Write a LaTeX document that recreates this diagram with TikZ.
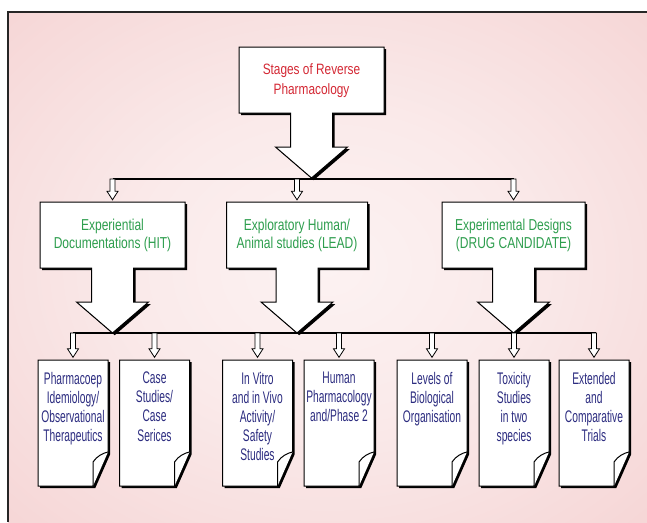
\documentclass[tikz,border=0pt]{standalone}
\usepackage{fontspec}
\setmainfont{Liberation Sans}
\newfontfamily\condA[FakeStretch=0.79]{Liberation Sans}
\newfontfamily\condB[FakeStretch=0.76]{Liberation Sans}
\newfontfamily\condC[FakeStretch=0.61]{Liberation Sans}
\usetikzlibrary{calc}
\definecolor{redtxt}{RGB}{212,40,52}
\definecolor{greentxt}{RGB}{46,158,78}
\definecolor{bluetxt}{RGB}{44,44,128}
\definecolor{bgA}{RGB}{252,242,242}
\definecolor{bgB}{RGB}{250,234,234}
\definecolor{bgC}{RGB}{245,210,210}
\definecolor{bgD}{RGB}{241,196,196}
\definecolor{bgE}{RGB}{238,186,186}
\pgfdeclareradialshading{bgshade}{\pgfpoint{0bp}{0bp}}{color(0bp)=(bgA); color(15bp)=(bgB); color(40bp)=(bgC); color(55bp)=(bgD); color(71bp)=(bgE)}

% box with down arrow: #1 centre x, #2 top y, #3 box width
\newcommand\callout[3]{%
  \fill[shadowst] (#1-#3/2,-#2) -- (#1+#3/2,-#2) -- (#1+#3/2,-#2-66) -- (#1+21,-#2-66) -- (#1+21,-#2-100) -- (#1+36,-#2-100) -- (#1,-#2-131) -- (#1-36,-#2-100) -- (#1-21,-#2-100) -- (#1-21,-#2-66) -- (#1-#3/2,-#2-66) -- cycle;
  \filldraw[shapest] (#1-#3/2,-#2) -- (#1+#3/2,-#2) -- (#1+#3/2,-#2-66) -- (#1+21,-#2-66) -- (#1+21,-#2-100) -- (#1+36,-#2-100) -- (#1,-#2-131) -- (#1-36,-#2-100) -- (#1-21,-#2-100) -- (#1-21,-#2-66) -- (#1-#3/2,-#2-66) -- cycle;}

% folded page: #1 centre x
\newcommand\pagesheet[1]{%
  \fill[shadowst] (#1-35,-360) -- (#1+35,-360) -- (#1+35,-452) -- (#1+20,-486) -- (#1-35,-486) -- cycle;
  \filldraw[shapest] (#1-35,-360) -- (#1+35,-360) -- (#1+35,-452) -- (#1+20,-486) -- (#1-35,-486) -- cycle;
  \draw[shapest] (#1+20,-486) -- (#1+20,-462) .. controls (#1+24,-456) and (#1+30,-453) .. (#1+35,-452);}

% small hollow arrow from a point (#1) down to a node anchor (#2)
\newcommand\smallarr[2]{%
  \filldraw[smallarrst] let \p1=(#1), \p2=(#2) in (\x1-2.5,\y1) -- (\x1+2.5,\y1) -- (\x1+2.5,\y2+11) -- (\x1+5.5,\y2+11) -- (\x1,\y2+2.5) -- (\x1-5.5,\y2+11) -- (\x1-2.5,\y2+11) -- cycle;}

\begin{document}
\begin{tikzpicture}[x=1pt,y=1pt,
  framest/.style={line width=1.3pt, draw=black!85},
  shapest/.style={fill=white,draw=black,line width=1pt,line join=miter},
  shadowst/.style={fill=black, shift={(2.2,-2.2)}},
  barst/.style={line width=1.4pt, draw=black},
  smallarrst/.style={fill=white,draw=black,line width=0.8pt},
  toptxt/.style={font=\condA\fontsize{15}{20}\selectfont, text=redtxt, align=center},
  midtxt/.style={font=\condB\fontsize{15.8}{18}\selectfont, text=greentxt, align=center},
  pagetxt/.style={font=\condC\fontsize{16.8}{19.1}\selectfont, text=bluetxt, align=center, inner sep=0pt, anchor=north},
  boxnode/.style={minimum width=145pt, minimum height=66pt, inner sep=0pt},
  pagenode/.style={minimum width=70pt, minimum height=126pt, inner sep=0pt},
]
\useasboundingbox (0,0) rectangle (647,-522);
\shade[shading=bgshade] (8,-12) rectangle (647,-522);
\draw[framest] (647,-12) -- (8,-12) -- (8,-522);

% shapes
\callout{311.5}{47}{145}
\callout{112.5}{202}{145}
\callout{297}{202}{141}
\callout{513.5}{202}{143}
\foreach \c in {73,154.5,257.5,339,432,514,594}{\pagesheet{\c}}

% nodes
\node[toptxt] (stages) at (311.5,-80.5) {Stages of Reverse\\Pharmacology};
\node[boxnode,midtxt] (exp1) at (112.5,-235.5) {Experiential\\Documentations (HIT)};
\node[boxnode,midtxt,minimum width=141pt] (exp2) at (297,-235.5) {Exploratory Human/\\Animal studies (LEAD)};
\node[boxnode,midtxt,minimum width=143pt] (exp3) at (513.5,-235.5) {Experimental Designs\\(DRUG CANDIDATE)};

\node[pagenode] (p1) at (73,-423) {};
\node[pagenode] (p2) at (154.5,-423) {};
\node[pagenode] (p3) at (257.5,-423) {};
\node[pagenode] (p4) at (339,-423) {};
\node[pagenode] (p5) at (432,-423) {};
\node[pagenode] (p6) at (514,-423) {};
\node[pagenode] (p7) at (594,-423) {};

\node[pagetxt] (t1) at ([yshift=-12pt]p1.north) {Pharmacoep\\Idemiology/\\Observational\\Therapeutics};
\node[pagetxt] (t2) at ([yshift=-12pt]p2.north) {Case\\Studies/\\Case\\Serices};
\node[pagetxt] (t3) at ([yshift=-12pt]p3.north) {In Vitro\\and in Vivo\\Activity/\\Safety\\Studies};
\node[pagetxt] (t4) at ([yshift=-12pt]p4.north) {Human\\Pharmacology\\and/Phase 2};
\node[pagetxt] (t5) at ([yshift=-12pt]p5.north) {Levels of\\Biological\\Organisation};
\node[pagetxt] (t6) at ([yshift=-12pt]p6.north) {Toxicity\\Studies\\in two\\species};
\node[pagetxt] (t7) at ([yshift=-12pt]p7.north) {Extended\\and\\Comparative\\Trials};

% bars
\coordinate (tb) at (0,-179);
\coordinate (lb) at (0,-333);
\draw[barst] (exp1.north |- tb) -- (exp3.north |- tb);
\draw[barst] (p1.north |- lb) -- ([xshift=2pt]p7.north |- lb);

% small arrows
\foreach \nm in {exp1,exp2,exp3}{\smallarr{\nm.north |- tb}{\nm.north}}
\foreach \nm in {p1,p2,p3,p4,p5,p6,p7}{\smallarr{\nm.north |- lb}{\nm.north}}
\end{tikzpicture}
\end{document}
